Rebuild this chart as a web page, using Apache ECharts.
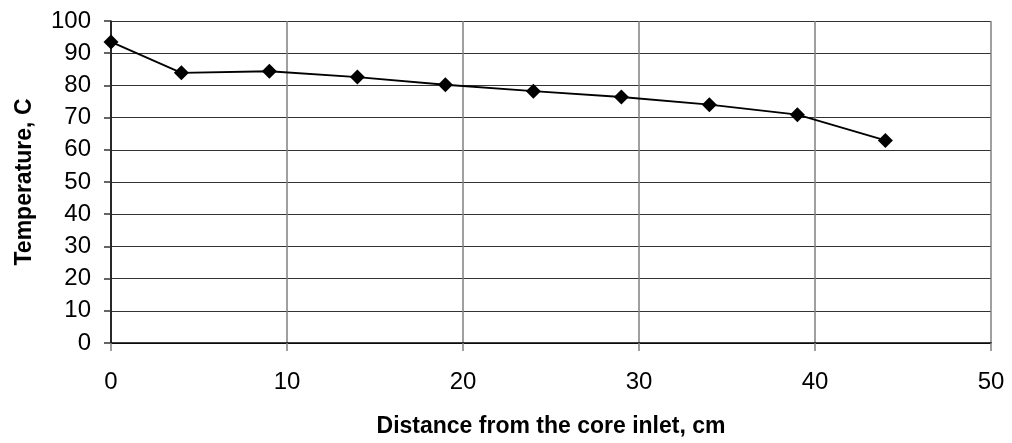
<!DOCTYPE html>
<html>
<head>
<meta charset="utf-8">
<script src="https://cdn.jsdelivr.net/npm/echarts@6/dist/echarts.min.js"></script>
<style>html,body{margin:0;padding:0;background:#fff;}#c{width:1012px;height:443px;}</style>
</head>
<body>
<div id="c"></div>
<script>
const distances = [0, 4, 9, 14, 19, 24, 29, 34, 39, 44];
const temperatures = [93.5, 83.9, 84.4, 82.6, 80.2, 78.2, 76.4, 74.0, 70.9, 62.9];
const xTitle = 'Distance from the core inlet, cm';
const yTitle = 'Temperature, C';

const chart = echarts.init(document.getElementById('c'), null, {renderer: 'canvas'});
const font = 'Liberation Sans, Arial, sans-serif';
chart.setOption({
  animation: false,
  grid: {left: 111, right: 21, top: 21, bottom: 98, containLabel: false},
  xAxis: {
    type: 'value', min: 0, max: 50, interval: 10,
    name: xTitle, nameLocation: 'middle', nameGap: 72,
    nameTextStyle: {fontFamily: font, fontSize: 23, fontWeight: 'bold', color: '#000'},
    axisLine: {show: true, onZero: false, lineStyle: {color: '#000', width: 1.5}},
    axisTick: {show: true, inside: false, length: 8, lineStyle: {color: '#808080', width: 1.5}},
    axisLabel: {fontFamily: font, fontSize: 24, color: '#000', margin: 27},
    splitLine: {show: true, lineStyle: {color: '#808080', width: 1.5}}
  },
  yAxis: {
    type: 'value', min: 0, max: 100, interval: 10,
    name: yTitle, nameLocation: 'middle', nameGap: 75, nameRotate: 90,
    nameTextStyle: {fontFamily: font, fontSize: 23, fontWeight: 'bold', color: '#000'},
    axisLine: {show: true, onZero: false, lineStyle: {color: '#000', width: 1.5}},
    axisTick: {show: true, inside: false, length: 7, lineStyle: {color: '#333', width: 1.5}},
    axisLabel: {fontFamily: font, fontSize: 24, color: '#000', margin: 20},
    splitLine: {show: true, lineStyle: {color: '#333', width: 1}}
  },
  series: [{
    type: 'line',
    data: distances.map((d, i) => [d, temperatures[i]]),
    symbol: 'diamond', symbolSize: 15,
    itemStyle: {color: '#000'},
    lineStyle: {color: '#000', width: 1.8}
  }]
});
</script>
</body>
</html>
